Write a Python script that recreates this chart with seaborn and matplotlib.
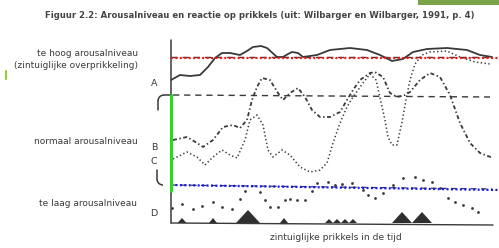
import matplotlib
matplotlib.use("Agg")
import matplotlib.pyplot as plt
from matplotlib.patches import Arc, Rectangle
import seaborn as sns

# units: time from the vertical axis, arousal level above the baseline
# A - solid line, stays high (overprikkeling)
a_time = [0, 9, 19, 29, 37, 44, 51, 59, 69, 76, 82, 90, 96, 106, 112, 117, 121, 127, 132,
          146, 159, 179, 196, 209, 221, 232, 242, 256, 276, 296, 309, 321]
a_level = [143, 148, 147, 148, 156, 165, 170, 170, 168, 172, 176, 177, 175, 166, 166, 169, 171, 170, 166,
           168, 173, 175, 173, 168, 162, 164, 171, 174, 175, 173, 168, 166]

# B - dash-dot line
b_time = [2, 16, 26, 32, 42, 52, 62, 69, 76, 81, 86, 91, 99, 107, 112, 119, 127, 134, 141, 149,
          159, 169, 176, 182, 189, 199, 204, 212, 219, 226, 234, 239, 249, 259, 269, 279, 289,
          299, 309, 322]
b_level = [83, 86, 80, 76, 83, 96, 98, 95, 103, 123, 136, 145, 143, 130, 123, 130, 135, 126, 113, 106,
           106, 111, 123, 133, 143, 150, 151, 146, 130, 126, 128, 131, 143, 150, 146, 128, 100,
           80, 70, 65]

# C - dotted line
c_time = [2, 6, 16, 26, 34, 42, 51, 59, 66, 74, 79, 86, 92, 97, 102, 111, 119, 129, 139, 149,
          156, 162, 169, 176, 182, 192, 199, 205, 209, 214, 217, 221, 226, 231, 235, 239, 244,
          251, 259, 276, 289, 304, 319]
c_level = [64, 66, 71, 66, 58, 66, 73, 68, 65, 83, 103, 108, 98, 73, 66, 73, 68, 56, 51, 53,
           60, 80, 100, 116, 126, 140, 149, 143, 125, 103, 86, 78, 78, 101, 123, 143, 159,
           168, 171, 172, 166, 161, 159]

# D - low arousal, loose dots
d_time = [1, 11, 22, 31, 42, 51, 61, 69, 74, 89, 94, 99, 107, 114, 119, 126, 134, 141, 146,
          157, 164, 171, 181, 192, 197, 204, 212, 222, 232, 244, 252, 261, 269, 277, 284,
          292, 301, 307]
d_level = [15, 19, 14, 17, 21, 16, 14, 24, 32, 31, 23, 16, 16, 23, 24, 23, 23, 32, 40,
           41, 38, 39, 40, 33, 28, 25, 30, 38, 45, 46, 43, 41, 35, 25, 21,
           18, 15, 11]

# stimuli on the time axis (triangles)
stim_time = [11, 42, 77, 113, 158, 166, 174, 182, 231, 251]
stim_height = [5, 5, 13, 5, 4, 4, 4, 4, 11, 11]
stim_halfwidth = [4.5, 4, 12, 4, 4, 4, 4, 4, 10, 10]

high_level = 166
normal_level = 127
low_level = 38
end_time = 321

ink = "#3a3a3a"

sns.set_theme(style="white")
plt.rcParams["font.family"] = ["DejaVu Sans"]

fig = plt.figure(figsize=(4.99, 2.48), dpi=100)
fig.patch.set_facecolor("white")
ax = fig.add_axes([0, 0, 1, 1])
ax.set_xlim(-171, 328)
ax.set_ylim(-25, 223)
ax.axis("off")

# axes of the figure
ax.plot([0, 0], [0, 183], color=ink, lw=1.1)
ax.plot([0, end_time + 1], [0, -2], color=ink, lw=1.0)

# threshold lines
ax.plot([0, end_time], [high_level, high_level], color=ink, lw=1.0, ls=(0, (4.5, 3.5)))
ax.plot([2, end_time - 2], [normal_level + 1, normal_level - 1], color=ink, lw=1.0, ls=(0, (4.5, 3.5)))
ax.plot([0, end_time], [low_level, low_level - 4], color=ink, lw=0.9, ls=(0, (4.5, 3.5)))

# brackets for the normal zone
ax.plot([-13, -13], [113, 122], color=ink, lw=1.1)
ax.add_patch(Arc((-7, 122), 12, 12, theta1=90, theta2=180, color=ink, lw=1.1))
ax.plot([-7, 0], [128, 128], color=ink, lw=1.1)
ax.plot([-14, -14], [53, 44], color=ink, lw=1.1)
ax.add_patch(Arc((-8, 44), 12, 12, theta1=180, theta2=270, color=ink, lw=1.1))

# curves
sns.lineplot(x=a_time, y=a_level, sort=False, color=ink, lw=1.3, ax=ax)
sns.lineplot(x=b_time, y=b_level, sort=False, color=ink, lw=1.3, ax=ax,
             linestyle=(0, (2.2, 1.4, 0.8, 1.4)))
sns.lineplot(x=c_time, y=c_level, sort=False, color=ink, lw=1.1, ax=ax,
             linestyle=(0, (0.9, 1.6)))
sns.scatterplot(x=d_time, y=d_level, color=ink, s=4, linewidth=0, ax=ax)

# stimuli
for t, h, w in zip(stim_time, stim_height, stim_halfwidth):
    ax.fill([t - w, t, t + w], [0, h, 0], color="#2f2f2f", lw=0)

# coloured overlays
ax.plot([0, 329], [high_level - 1, high_level - 1], color="#ff1010", lw=1.6, ls=(0, (0.9, 1.1)))
ax.plot([0, 329], [low_level, low_level - 5], color="#1010ff", lw=1.6, ls=(0, (0.9, 1.1)))
ax.plot([0, 0], [129, 31], color="#22dd22", lw=2.2, solid_capstyle="butt")

# slide leftovers
ax.plot([-165, -165], [144, 152], color="#99cc33", lw=1.5)
ax.add_patch(Rectangle((247, 218), 82, 6, color="#7ba44a", lw=0))

# texts
ax.text(89, 208, "Figuur 2.2: Arousalniveau en reactie op prikkels (uit: Wilbarger en Wilbarger, 1991, p. 4)",
        ha="center", va="center", fontsize=6.1, color="#444444", fontweight="semibold")
ax.text(-33, 170, "te hoog arousalniveau", ha="right", va="center", fontsize=6.5, color=ink)
ax.text(-33, 158, "(zintuiglijke overprikkeling)", ha="right", va="center", fontsize=6.5, color=ink)
ax.text(-33, 82, "normaal arousalniveau", ha="right", va="center", fontsize=6.5, color=ink)
ax.text(-34, 19, "te laag arousalniveau", ha="right", va="center", fontsize=6.5, color=ink)
ax.text(165, -15, "zintuiglijke prikkels in de tijd", ha="center", va="center", fontsize=6.6, color=ink)
for letter, lvl in zip(["A", "B", "C", "D"], [140, 76, 61, 10]):
    ax.text(-17, lvl, letter, ha="center", va="center", fontsize=6.8, color=ink)

fig.savefig("out.png", dpi=100, facecolor="white")
